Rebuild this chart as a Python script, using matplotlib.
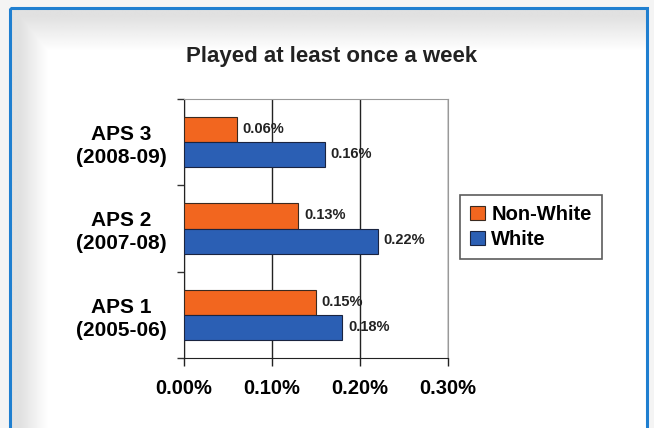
import numpy as np
import matplotlib.pyplot as plt
from matplotlib.patches import Rectangle
from matplotlib.ticker import FuncFormatter

# data (percent), bottom to top
surveys = ["APS 1\n(2005-06)", "APS 2\n(2007-08)", "APS 3\n(2008-09)"]
non_white = [0.15, 0.13, 0.06]
white = [0.18, 0.22, 0.16]
series_names = ["Non-White", "White"]

orange = '#f2661f'
blue = '#2b5fb4'

plt.rcParams['font.family'] = ['Liberation Sans', 'DejaVu Sans']
plt.rcParams['font.weight'] = 'bold'

fig = plt.figure(figsize=(6.54, 4.28), dpi=100)
fig.patch.set_facecolor('#f4f4f4')

# background frame with soft shadow at top/left
bg = fig.add_axes([0, 0, 1, 1], zorder=-10)
bg.set_xlim(0, 654)
bg.set_ylim(428, 0)
bg.axis('off')
h, w = 428, 654
xx = np.arange(w)
yy = np.arange(h)
sx = np.clip((xx - 10) / 28.0, 0, 1)
sy = np.clip((yy - 8) / 35.0, 0, 1)
shade = np.minimum(sx[None, :], sy[:, None])
img = 0.88 + 0.12 * shade
bg.imshow(img, cmap='gray', vmin=0, vmax=1, extent=[10, 647, 428, 8], aspect='auto', zorder=0)
bg.add_patch(Rectangle((10, 8), 637, 430, fill=False, edgecolor='#1f7fd0', linewidth=2.2, zorder=2))

ax = fig.add_axes([184 / 654, 1 - 358 / 428, (448 - 184) / 654, (358 - 99) / 428])
ax.set_facecolor('white')

y = np.arange(len(surveys))
bh = 0.29
b1 = ax.barh(y + bh / 2, non_white, height=bh, color=orange, edgecolor='#3a2a20', linewidth=0.8,
             label=series_names[0], zorder=3)
b2 = ax.barh(y - bh / 2, white, height=bh, color=blue, edgecolor='#1a2440', linewidth=0.8,
             label=series_names[1], zorder=3)

for bars, vals in ((b1, non_white), (b2, white)):
    for b, v in zip(bars, vals):
        ax.annotate('%.2f%%' % v, (v, b.get_y() + b.get_height() / 2), xytext=(4, 0.5),
                    textcoords='offset points', va='center', ha='left', fontsize=10.5,
                    fontweight='bold', color='#222222', zorder=4)

ax.set_xlim(0, 0.30)
ax.set_ylim(-0.5, 2.5)
ax.set_xticks([0, 0.1, 0.2, 0.3])
ax.xaxis.set_major_formatter(FuncFormatter(lambda v, p: '%.2f%%' % v))
ax.grid(axis='x', color='#222222', linewidth=1.0, zorder=1)

ax.set_yticks([-0.5, 0.5, 1.5, 2.5])
ax.set_yticklabels([])
ax.set_yticks(y, minor=True)
ax.set_yticklabels(surveys, minor=True, fontsize=15, fontweight='bold', ha='center',
                   linespacing=1.25)
ax.tick_params(axis='y', which='minor', length=0, pad=45)
ax.tick_params(axis='y', which='major', length=5, width=1, color='#333333')
ax.tick_params(axis='x', length=6, width=1, color='#222222', labelsize=14.5, pad=9)
for lbl in ax.get_xticklabels():
    lbl.set_fontweight('bold')

ax.spines['left'].set_color('#222222')
ax.spines['bottom'].set_color('#222222')
ax.spines['top'].set_color('#999999')
ax.spines['right'].set_color('#999999')

fig.text(332 / 654, 1 - 57 / 428, 'Played at least once a week', ha='center', va='center',
         fontsize=16, fontweight='bold', color='#222222')

leg = fig.legend(handles=[b1, b2], labels=series_names, loc='center left',
                 bbox_to_anchor=(460 / 654, 1 - 227 / 428), fontsize=14.5, frameon=True,
                 fancybox=False, edgecolor='#333333', handlelength=0.75, handleheight=0.75,
                 handletextpad=0.3, borderpad=0.5, labelspacing=0.3, borderaxespad=0)
leg.get_frame().set_linewidth(1.2)
for t in leg.get_texts():
    t.set_fontweight('bold')

fig.savefig('out.png', dpi=100, facecolor=fig.get_facecolor())
